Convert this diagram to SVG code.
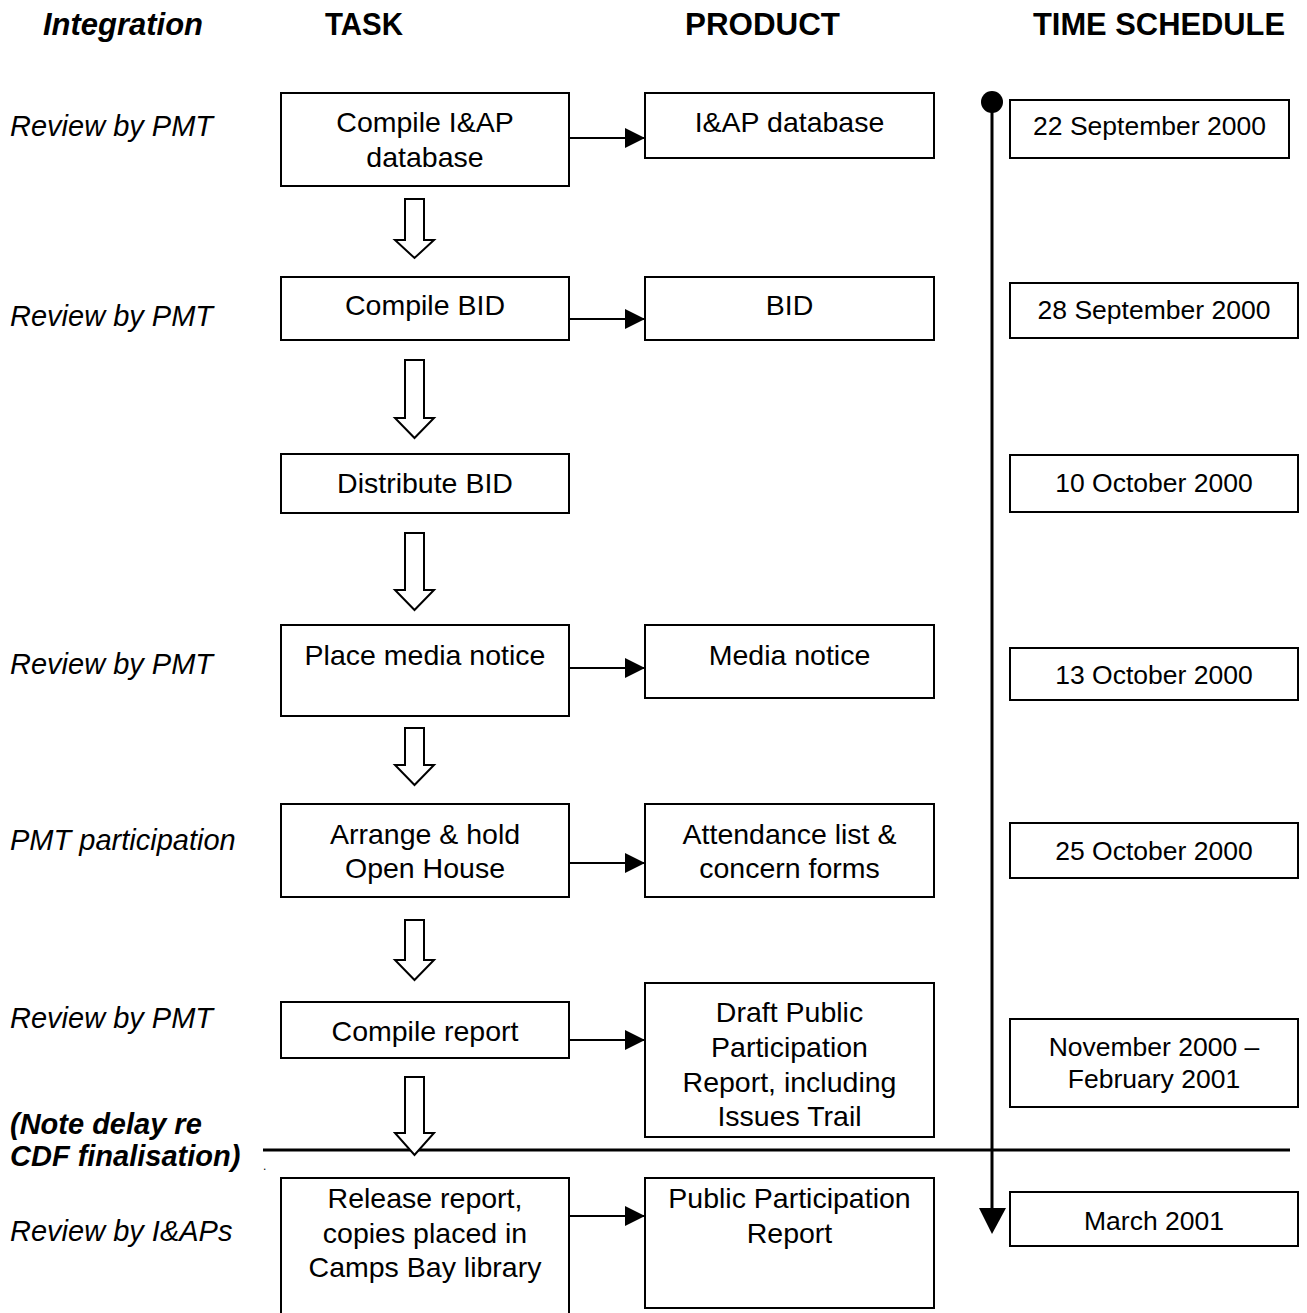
<svg xmlns="http://www.w3.org/2000/svg" width="1307" height="1313" viewBox="0 0 1307 1313">
<defs>
<style>
.box{fill:#fff;stroke:#000;stroke-width:2}
.t{font-family:"Liberation Sans",Arial,sans-serif;font-size:28.5px;fill:#000;text-anchor:middle}
.d{font-family:"Liberation Sans",Arial,sans-serif;font-size:26.5px;fill:#000;text-anchor:middle}
.l{font-family:"Liberation Sans",Arial,sans-serif;font-size:29px;font-style:italic;fill:#000}
.lb{font-family:"Liberation Sans",Arial,sans-serif;font-size:29px;font-style:italic;font-weight:bold;fill:#000}
.h{font-family:"Liberation Sans",Arial,sans-serif;font-size:31px;font-weight:bold;fill:#000}
.conn{fill:none;stroke:#000;stroke-width:2}
.hollow{fill:#fff;stroke:#000;stroke-width:2;stroke-linejoin:miter}
</style>
<marker id="ah" markerWidth="20" markerHeight="20" refX="20" refY="10" orient="auto" markerUnits="userSpaceOnUse">
<path d="M0,0 L20,10 L0,20 Z" fill="#000"/>
</marker>
</defs>
<rect width="1307" height="1313" fill="#fff"/>

<g id="headers">
<text class="h" x="43" y="35" font-style="italic" textLength="160" lengthAdjust="spacingAndGlyphs">Integration</text>
<text class="h" x="325" y="35" textLength="78" lengthAdjust="spacingAndGlyphs">TASK</text>
<text class="h" x="685" y="35" textLength="155" lengthAdjust="spacingAndGlyphs">PRODUCT</text>
<text class="h" x="1033" y="35" textLength="252" lengthAdjust="spacingAndGlyphs">TIME SCHEDULE</text>
</g>

<g id="integration-labels">
<text class="l" x="10" y="136">Review by PMT</text>
<text class="l" x="10" y="326">Review by PMT</text>
<text class="l" x="10" y="674">Review by PMT</text>
<text class="l" x="10" y="850">PMT participation</text>
<text class="l" x="10" y="1028">Review by PMT</text>
<text class="lb" x="10" y="1134">(Note delay re</text>
<text class="lb" x="10" y="1166">CDF finalisation)</text>
<text class="l" x="10" y="1241">Review by I&amp;APs</text>
<text x="263" y="1170" font-family="Liberation Sans, Arial, sans-serif" font-size="12">.</text>
</g>

<g id="task1"><rect class="box" x="281" y="93" width="288" height="93"/><text class="t" x="425" y="132">Compile I&amp;AP</text><text class="t" x="425" y="167">database</text></g>
<g id="task2"><rect class="box" x="281" y="277" width="288" height="63"/><text class="t" x="425" y="315">Compile BID</text></g>
<g id="task3"><rect class="box" x="281" y="454" width="288" height="59"/><text class="t" x="425" y="493">Distribute BID</text></g>
<g id="task4"><rect class="box" x="281" y="625" width="288" height="91"/><text class="t" x="425" y="665">Place media notice</text></g>
<g id="task5"><rect class="box" x="281" y="804" width="288" height="93"/><text class="t" x="425" y="844">Arrange &amp; hold</text><text class="t" x="425" y="878">Open House</text></g>
<g id="task6"><rect class="box" x="281" y="1002" width="288" height="56"/><text class="t" x="425" y="1041">Compile report</text></g>
<g id="task7"><rect class="box" x="281" y="1178" width="288" height="150"/><text class="t" x="425" y="1208">Release report,</text><text class="t" x="425" y="1243">copies placed in</text><text class="t" x="425" y="1277">Camps Bay library</text></g>

<g id="product1"><rect class="box" x="645" y="93" width="289" height="65"/><text class="t" x="789.5" y="132">I&amp;AP database</text></g>
<g id="product2"><rect class="box" x="645" y="277" width="289" height="63"/><text class="t" x="789.5" y="315">BID</text></g>
<g id="product4"><rect class="box" x="645" y="625" width="289" height="73"/><text class="t" x="789.5" y="665">Media notice</text></g>
<g id="product5"><rect class="box" x="645" y="804" width="289" height="93"/><text class="t" x="789.5" y="844">Attendance list &amp;</text><text class="t" x="789.5" y="878">concern forms</text></g>
<g id="product6"><rect class="box" x="645" y="983" width="289" height="154"/><text class="t" x="789.5" y="1022">Draft Public</text><text class="t" x="789.5" y="1057">Participation</text><text class="t" x="789.5" y="1092">Report, including</text><text class="t" x="789.5" y="1126">Issues Trail</text></g>
<g id="product7"><rect class="box" x="645" y="1178" width="289" height="130"/><text class="t" x="789.5" y="1208">Public Participation</text><text class="t" x="789.5" y="1243">Report</text></g>

<g id="date1"><rect class="box" x="1010" y="100" width="279" height="58"/><text class="d" x="1149.5" y="135">22 September 2000</text></g>
<g id="date2"><rect class="box" x="1010" y="283" width="288" height="55"/><text class="d" x="1154" y="319">28 September 2000</text></g>
<g id="date3"><rect class="box" x="1010" y="455" width="288" height="57"/><text class="d" x="1154" y="492">10 October 2000</text></g>
<g id="date4"><rect class="box" x="1010" y="648" width="288" height="52"/><text class="d" x="1154" y="684">13 October 2000</text></g>
<g id="date5"><rect class="box" x="1010" y="823" width="288" height="55"/><text class="d" x="1154" y="860">25 October 2000</text></g>
<g id="date6"><rect class="box" x="1010" y="1019" width="288" height="88"/><text class="d" x="1154" y="1056">November 2000 –</text><text class="d" x="1154" y="1088">February 2001</text></g>
<g id="date7"><rect class="box" x="1010" y="1192" width="288" height="54"/><text class="d" x="1154" y="1230">March 2001</text></g>

<g id="connectors">
<line class="conn" x1="569" y1="138" x2="645" y2="138" marker-end="url(#ah)"/>
<line class="conn" x1="569" y1="319" x2="645" y2="319" marker-end="url(#ah)"/>
<line class="conn" x1="569" y1="668" x2="645" y2="668" marker-end="url(#ah)"/>
<line class="conn" x1="569" y1="863" x2="645" y2="863" marker-end="url(#ah)"/>
<line class="conn" x1="569" y1="1040" x2="645" y2="1040" marker-end="url(#ah)"/>
<line class="conn" x1="569" y1="1216" x2="645" y2="1216" marker-end="url(#ah)"/>

<path class="hollow" d="M405,199 H424 V240 H434 L414.5,258 L395,240 H405 Z"/>
<path class="hollow" d="M405,360 H424 V418 H434 L414.5,438 L395,418 H405 Z"/>
<path class="hollow" d="M405,533 H424 V590 H434 L414.5,610 L395,590 H405 Z"/>
<path class="hollow" d="M405,728 H424 V765 H434 L414.5,785 L395,765 H405 Z"/>
<path class="hollow" d="M405,920 H424 V960 H434 L414.5,980 L395,960 H405 Z"/>

<line x1="263" y1="1150" x2="1290" y2="1150" stroke="#000" stroke-width="3"/>
<path class="hollow" d="M405,1077 H424 V1133 H434 L414.5,1155 L395,1133 H405 Z"/>

<line x1="992" y1="102" x2="992" y2="1210" stroke="#000" stroke-width="3"/>
<circle cx="992" cy="102" r="11" fill="#000"/>
<path d="M979,1208 L1006,1208 L992,1234 Z" fill="#000"/>
</g>
</svg>
